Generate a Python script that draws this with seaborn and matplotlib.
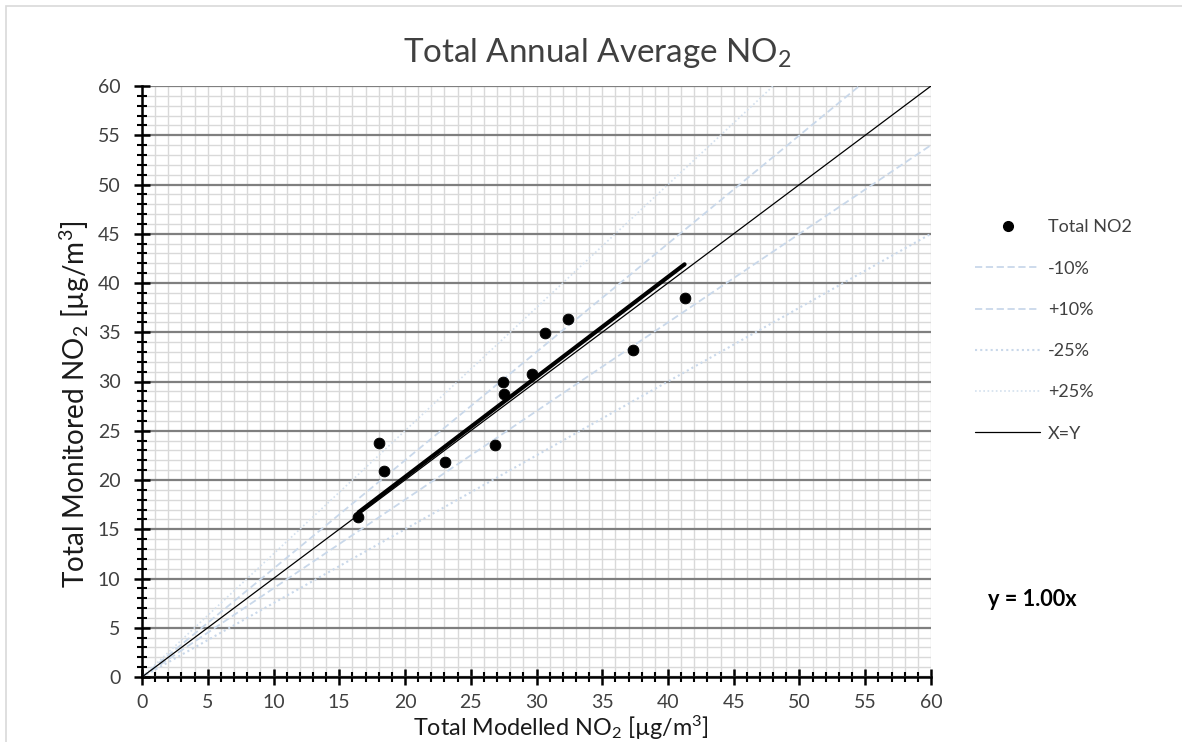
import numpy as np
import pandas as pd
import matplotlib
matplotlib.use("Agg")
import matplotlib.pyplot as plt
import seaborn as sns
from matplotlib.ticker import MultipleLocator
from matplotlib.lines import Line2D
from matplotlib.patches import Rectangle

# ---- data ----
modelled = [16.46, 18.03, 18.43, 23.07, 26.85, 27.48, 27.50, 29.66, 30.67, 32.42, 37.33, 41.26]
monitored = [16.24, 23.80, 20.90, 21.80, 23.60, 29.96, 28.70, 30.77, 34.88, 36.36, 33.18, 38.43]
ref_x = [0, 60]
ref_labels = ["-10%", "+10%", "-25%", "+25%", "X=Y"]
ref_factors = [0.90, 1.10, 0.75, 1.25, 1.00]
x_ticks = list(range(0, 61, 5))
y_ticks = list(range(0, 61, 5))

sns.set_theme(style="white")
FONT = ["Lato", "DejaVu Sans"]
plt.rcParams["font.family"] = FONT
plt.rcParams["mathtext.fontset"] = "custom"
plt.rcParams["mathtext.rm"] = "Lato"
plt.rcParams["mathtext.it"] = "Lato:italic"
plt.rcParams["mathtext.bf"] = "Lato:bold"

W, H = 1182, 742
fig = plt.figure(figsize=(W / 100, H / 100), dpi=100)
ax = fig.add_axes([142/W, 1-677/H, (931-142)/W, (677-86)/H])

def fx(px):
    return px / W

def fy(py):
    return 1 - py / H

# figure border (top/left visible)
fig.patches.append(Rectangle((fx(5.5), -0.05), 1.2, 1.05 - 6/H, transform=fig.transFigure,
                             fill=False, edgecolor="#D9D9D9", linewidth=1.2))

ref_rows = []
for lab, f in zip(ref_labels, ref_factors):
    for xv in ref_x:
        ref_rows.append({"x": xv, "y": xv * f, "line": lab})
ref_df = pd.DataFrame(ref_rows)

styles = {
    "-10%": dict(color="#C9D8EA", lw=1.3, ls=(0, (4, 2))),
    "+10%": dict(color="#C9D8EA", lw=1.3, ls=(0, (4, 2))),
    "-25%": dict(color="#C9D8EA", lw=1.5, ls=(0, (1, 1.5))),
    "+25%": dict(color="#D3E0EE", lw=1.2, ls=(0, (1, 1.5))),
    "X=Y": dict(color="black", lw=0.9, ls="-"),
}
handles = []
for lab in ref_labels:
    sub = ref_df[ref_df["line"] == lab]
    st = styles[lab]
    sns.lineplot(data=sub, x="x", y="y", ax=ax, color=st["color"], linewidth=st["lw"],
                 linestyle=st["ls"], zorder=3, legend=False)
    handles.append(Line2D([0], [0], color=st["color"], lw=st["lw"], ls=st["ls"], label=lab))

# trend line through origin
mx = np.array(modelled)
my = np.array(monitored)
slope = np.sum(mx * my) / np.sum(mx * mx)
tx = np.array([mx.min(), mx.max()])
trend_df = pd.DataFrame({"x": tx, "y": slope * tx})
sns.lineplot(data=trend_df, x="x", y="y", ax=ax, color="black", linewidth=3.0, zorder=4, legend=False)

pts = pd.DataFrame({"Modelled": modelled, "Monitored": monitored})
sns.scatterplot(data=pts, x="Modelled", y="Monitored", ax=ax, color="black", s=60,
                edgecolor="black", zorder=5, legend=False)
handles.insert(0, Line2D([0], [0], marker="o", color="black", ls="none", markersize=7, label="Total NO2"))

ax.set_xlabel("")
ax.set_ylabel("")
ax.set_xlim(0, 60)
ax.set_ylim(0, 60)
ax.set_xticks(x_ticks)
ax.set_yticks(y_ticks)
ax.xaxis.set_minor_locator(MultipleLocator(1))
ax.yaxis.set_minor_locator(MultipleLocator(1))

ax.grid(which="minor", axis="both", color="#D9D9D9", linewidth=1.0, zorder=0)
ax.grid(which="major", axis="x", color="#D9D9D9", linewidth=1.0, zorder=0)
ax.grid(which="major", axis="y", color="#7F7F7F", linewidth=1.6, zorder=1)
ax.set_axisbelow(True)

for s in ["top", "right"]:
    ax.spines[s].set_visible(False)
for s in ["left", "bottom"]:
    ax.spines[s].set_visible(True)
    ax.spines[s].set_color("black")
    ax.spines[s].set_linewidth(1.8)
    ax.spines[s].set_zorder(6)

ax.tick_params(which="major", direction="inout", length=11, width=1.8, color="black",
               labelsize=14, labelcolor="#404040", bottom=True, left=True)
ax.tick_params(which="minor", direction="inout", length=7.5, width=1.5, color="black",
               bottom=True, left=True)
ax.tick_params(axis="x", which="major", pad=7)
ax.tick_params(axis="y", which="major", pad=10)

title = fig.text(fx(597), fy(62), r"Total Annual Average NO$_2$", ha="center", va="baseline",
                 fontsize=22, color="#404040")
xlab = fig.text(fx(561), fy(736), r"Total Modelled NO$_2$ [µg/m$^3$]", ha="center", va="baseline",
                fontsize=16, color="#1a1a1a")
ylab = fig.text(fx(75), fy(404), r"Total Monitored NO$_2$ [µg/m$^3$]", ha="center", va="center",
                rotation=90, fontsize=16, color="#1a1a1a")

leg = fig.legend(handles=handles, loc="center left", bbox_to_anchor=(fx(975), fy(330.5)),
                 frameon=False, fontsize=13, handlelength=3.6, handletextpad=0.45,
                 labelspacing=1.4, borderpad=0, borderaxespad=0)
for t in leg.get_texts():
    t.set_color("#404040")

eq = fig.text(fx(1032), fy(600), "y = 1.00x", ha="center", va="center", fontsize=13,
              fontweight="bold", color="black")

# fit text sizes to the reference widths
fig.canvas.draw()
r = fig.canvas.get_renderer()

def fit(t, target, horizontal=True):
    bb = t.get_window_extent(r)
    cur = bb.width if horizontal else bb.height
    t.set_fontsize(t.get_fontsize() * target / cur)

fit(title, 389)
fit(xlab, 345)
fit(ylab, 368, horizontal=False)
fit(eq, 89)

# keep the x-axis title clear of the tick labels
fig.canvas.draw()
tick_bottom = min(t.get_window_extent(r).y0 for t in ax.get_xticklabels())
for _ in range(20):
    bb = xlab.get_window_extent(r)
    if bb.y1 < tick_bottom - 1 and bb.y0 >= 0:
        break
    if bb.y1 >= tick_bottom - 1 and bb.y0 > 1:
        shift = min(bb.y1 - tick_bottom + 2, bb.y0 - 0.5)
        xx, yy = xlab.get_position()
        xlab.set_position((xx, yy - shift / H))
    else:
        xlab.set_fontsize(xlab.get_fontsize() * 0.97)
    fig.canvas.draw()

fig.savefig("out.png", dpi=100, facecolor="white")
